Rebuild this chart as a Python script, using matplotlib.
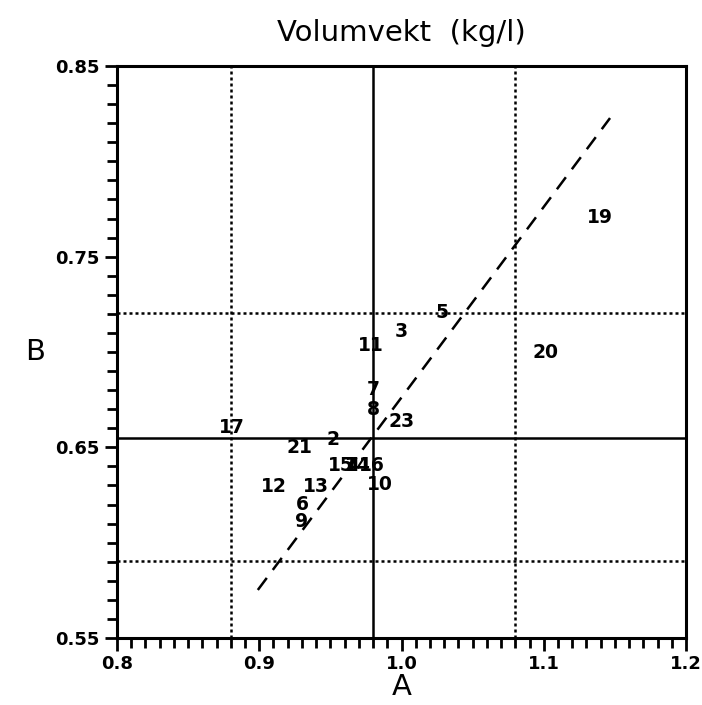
import numpy as np
import matplotlib
matplotlib.use('Agg')
import matplotlib.pyplot as plt
from matplotlib.ticker import MultipleLocator, FixedLocator

# point labels and their positions (A, B)
labels = ['19', '20', '5', '3', '11', '7', '8', '23', '17', '2', '21',
          '15', '4', '14', '16', '10', '12', '13', '6', '9']
a_vals = [1.1395, 1.1009, 1.0285, 0.9996, 0.9786, 0.980, 0.980, 1.0003, 0.8808, 0.9518, 0.9286,
          0.9575, 0.9655, 0.9690, 0.9790, 0.9849, 0.9104, 0.9399, 0.930, 0.930]
b_vals = [0.7703, 0.700, 0.7205, 0.7105, 0.7036, 0.6804, 0.6699, 0.6638, 0.6602, 0.6539, 0.6497,
          0.6403, 0.6403, 0.6403, 0.6403, 0.6303, 0.6293, 0.6293, 0.6198, 0.6109]

# mean and +/- limits
a_mean, a_lims = 0.98, [0.88, 1.08]
b_mean, b_lims = 0.655, [0.5905, 0.7205]

# regression line ends
reg_a = [0.899, 1.1466]
reg_b = [0.5752, 0.8227]

fig = plt.figure(figsize=(7.02, 7.05), dpi=100)
ax = fig.add_axes([117/702, 1 - 638/705, (686-117)/702, (638-66)/705])

for t, x, y in zip(labels, a_vals, b_vals):
    ax.text(x, y, t, ha='center', va='center', fontsize=13.5, fontweight='semibold')

ax.axvline(a_mean, color='black', lw=1.8)
ax.axhline(b_mean, color='black', lw=1.8)
for v in a_lims:
    ax.axvline(v, color='black', lw=1.8, ls=(0, (1.2, 1.2)))
for v in b_lims:
    ax.axhline(v, color='black', lw=1.8, ls=(0, (1.2, 1.2)))
ax.plot(reg_a, reg_b, color='black', lw=1.8, ls=(0, (6, 4)))

ax.set_xlim(0.8, 1.2)
ax.set_ylim(0.55, 0.85)
ax.xaxis.set_major_locator(FixedLocator([0.8, 0.9, 1.0, 1.1, 1.2]))
ax.yaxis.set_major_locator(FixedLocator([0.55, 0.65, 0.75, 0.85]))
ax.xaxis.set_minor_locator(MultipleLocator(0.01))
ax.yaxis.set_minor_locator(MultipleLocator(0.01))
ax.set_xticklabels(['0.8', '0.9', '1.0', '1.1', '1.2'], fontsize=13, fontweight='bold')
ax.set_yticklabels(['0.55', '0.65', '0.75', '0.85'], fontsize=13, fontweight='bold')
ax.tick_params(which='both', direction='out', width=2, top=False, right=False)
ax.tick_params(which='major', length=9)
ax.tick_params(which='minor', length=7)
for s in ax.spines.values():
    s.set_linewidth(2.2)

ax.set_title('Volumvekt  (kg/l)', fontsize=21, pad=18)
ax.set_xlabel('A', fontsize=21, labelpad=0)
fig.text(35/702, 1 - 352/705, 'B', fontsize=21, ha='center', va='center')

fig.savefig('out.png', dpi=100)
